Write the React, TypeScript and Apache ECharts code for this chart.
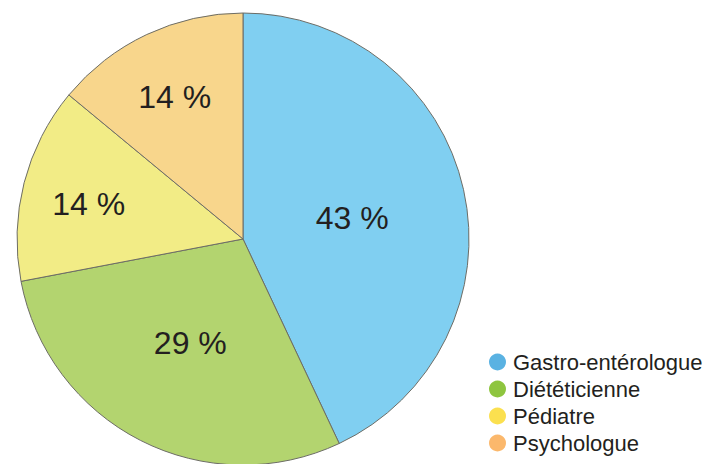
import React, { useEffect, useRef } from "react";
import * as echarts from "echarts";

const categories = ["Gastro-entérologue", "Diététicienne", "Pédiatre", "Psychologue"];
const values = [43, 29, 14, 14];
const sliceColors = ["#80cff1", "#b3d46f", "#f2ec86", "#f8d68c"];
const legendColors = ["#5ab2e2", "#8ec53f", "#fbe04f", "#fbb86c"];
// label nudges relative to the library's default inside position
const labelNudges = [
  [-4, 4],
  [0, 1],
  [-42, -6],
  [-19, -37],
];

export default function App() {
  const ref = useRef<HTMLDivElement>(null);
  useEffect(() => {
    document.body.style.margin = "0";
    const chart = echarts.init(ref.current!, null, { renderer: "svg" });
    chart.setOption({
      animation: false,
      backgroundColor: "#ffffff",
      legend: {
        orient: "vertical",
        left: 484,
        top: 346,
        icon: "circle",
        itemWidth: 17,
        itemHeight: 17,
        itemGap: 5,
        selectedMode: false,
        itemStyle: { borderWidth: 0 },
        data: categories.map((name, i) => ({
          name,
          itemStyle: { color: legendColors[i], borderWidth: 0 },
        })),
        textStyle: {
          fontFamily: "Liberation Sans, Arial, sans-serif",
          fontSize: 22,
          color: "#231f20",
          lineHeight: 22,
          padding: [0, 0, 0, 2],
        },
      },
      series: [
        {
          type: "pie",
          center: [243, 239],
          radius: 226,
          startAngle: 90,
          clockwise: true,
          avoidLabelOverlap: false,
          silent: true,
          itemStyle: { borderColor: "#6d6d66", borderWidth: 1 },
          label: {
            show: true,
            position: "inside",
            formatter: (p: any) => `${p.value} %`,
            fontFamily: "Liberation Sans, Arial, sans-serif",
            fontSize: 32,
            color: "#231f20",
          },
          labelLine: { show: false },
          labelLayout: (p: any) => ({
            dx: labelNudges[p.dataIndex][0],
            dy: labelNudges[p.dataIndex][1],
          }),
          data: categories.map((name, i) => ({
            name,
            value: values[i],
            itemStyle: { color: sliceColors[i] },
          })),
        },
      ],
    });
    return () => chart.dispose();
  }, []);
  return <div ref={ref} style={{ width: 712, height: 464 }} />;
}
